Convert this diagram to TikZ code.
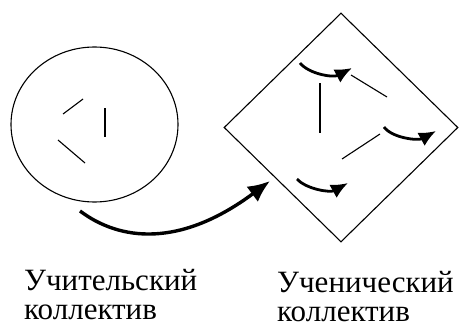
\documentclass[tikz,border=0pt]{standalone}
\usepackage{fontspec}
\setmainfont{Liberation Serif}
\usetikzlibrary{shapes.geometric,arrows.meta}
\tikzset{
  fleche/.style={line width=2.8pt,-{Latex[length=17pt,width=15pt]}},
  grandefleche/.style={line width=3.4pt,-{Latex[length=22pt,width=19pt]}},
  trait/.style={line width=1.1pt},
  legende/.style={anchor=base west,inner sep=0pt,align=left,font=\fontsize{31}{28.5}\selectfont}
}
\begin{document}
\begin{tikzpicture}[x=1pt,y=1pt]
\useasboundingbox (0,0) rectangle (459,333);
\node[draw,ellipse,trait,minimum width=167pt,minimum height=155pt,inner sep=0pt] (teach) at (94.5,208.5) {};
\node[draw,diamond,trait,minimum width=234pt,minimum height=229pt,inner sep=0pt] (stud) at (341,205.5) {};

% les traits dans le cercle
\coordinate (T1) at (63,219) ; \coordinate (T2) at (83,234) ;
\coordinate (T3) at (105,225) ; \coordinate (T4) at (105,196) ;
\coordinate (T5) at (58,193) ; \coordinate (T6) at (85,170) ;
\draw[trait] (T1) -- (T2) ;
\draw[trait] (T3) -- (T4) ;
\draw[trait] (T5) -- (T6) ;

% les traits dans le losange
\coordinate (S1) at (320,250) ; \coordinate (S2) at (320,200) ;
\coordinate (S3) at (351,258) ; \coordinate (S4) at (387,236) ;
\coordinate (S5) at (380,199) ; \coordinate (S6) at (342,174) ;
\draw[trait] (S1) -- (S2) ;
\draw[trait] (S3) -- (S4) ;
\draw[trait] (S5) -- (S6) ;

\coordinate (A1) at (300,270) ; \coordinate (B1) at (352,265) ;
\coordinate (A2) at (384,206) ; \coordinate (B2) at (436,202) ;
\coordinate (A3) at (297,154) ; \coordinate (B3) at (348,150) ;
\draw[fleche] (A1) .. controls (309,259) and (333,255) .. (B1) ;
\draw[fleche] (A2) .. controls (392,195) and (418,192) .. (B2) ;
\draw[fleche] (A3) .. controls (306,144) and (330,140) .. (B3) ;

\coordinate (D) at (80,122) ; \coordinate (F) at (270,152) ;
\draw[grandefleche] (D) .. controls (120,92) and (180,85) .. (F) ;

\node[legende] (lteach) at (24,14) {Учительский\\коллектив};
\node[legende] (lstud) at (277,12) {Ученический\\коллектив};
\end{tikzpicture}
\end{document}
